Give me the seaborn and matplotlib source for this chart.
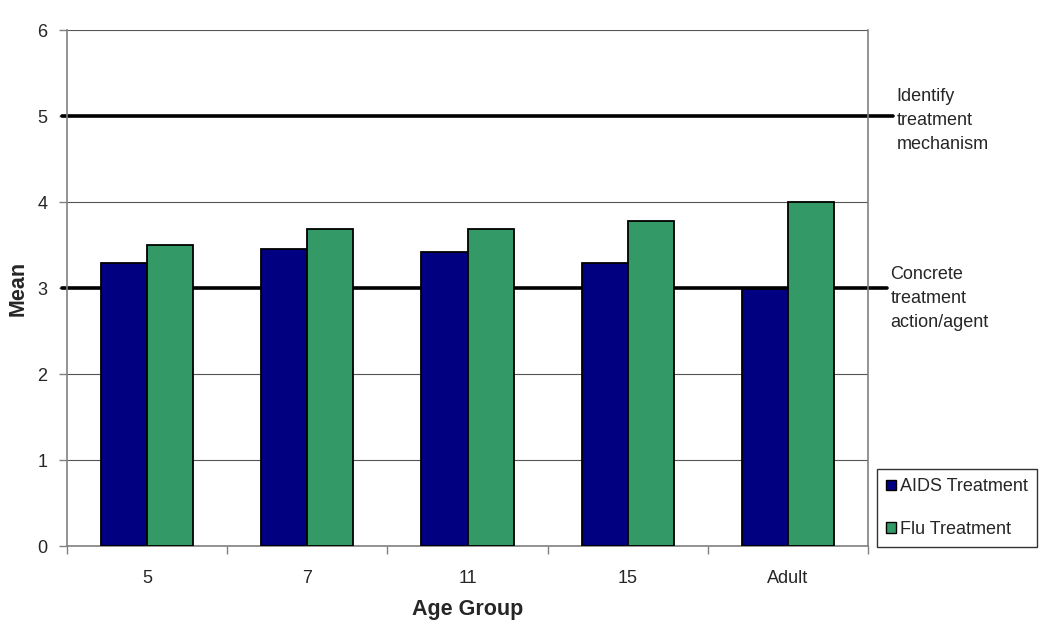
import pandas as pd
import seaborn as sns
import matplotlib.pyplot as plt
import matplotlib.transforms as mtransforms

#--------------
age_groups = ['5', '7', '11', '15', 'Adult']
aids_means = [3.29, 3.45, 3.42, 3.29, 2.99]
flu_means = [3.50, 3.69, 3.69, 3.78, 4.00]
series = ['AIDS Treatment', 'Flu Treatment']
colors = ['#000080', '#339966']

ref_levels = [5, 3]
ref_labels = ['Identify\ntreatment\nmechanism', 'Concrete\ntreatment\naction/agent']

df = pd.DataFrame({
    'Age Group': age_groups * 2,
    'Mean': aids_means + flu_means,
    'Series': [series[0]] * len(age_groups) + [series[1]] * len(age_groups),
})

#--------------
sns.set_style('white')
plt.rcParams['font.family'] = ['Liberation Sans', 'DejaVu Sans']

fig = plt.figure(figsize=(10.5, 6.32), dpi=100)
ax = fig.add_axes([0.0638, 0.136, 0.7629, 0.8165])

sns.barplot(data=df, x='Age Group', y='Mean', hue='Series', order=age_groups,
            hue_order=series, palette=colors, saturation=1, width=0.575,
            edgecolor='black', linewidth=1.3, ax=ax, zorder=3, legend=False)

ax.set_ylim(0, 6)
ax.set_xlim(-0.5, len(age_groups) - 0.5)
ax.set_yticks(range(0, 7))
ax.yaxis.grid(True, color='#555555', linewidth=0.8, zorder=0)
ax.set_axisbelow(True)

for s in ['left', 'right', 'top', 'bottom']:
    ax.spines[s].set_visible(True)
    ax.spines[s].set_color('#808080')
    ax.spines[s].set_linewidth(1.2)
ax.spines['top'].set_visible(False)

# tick marks between categories on x, outside ticks on y
ax.set_xticks([i - 0.5 for i in range(len(age_groups) + 1)], minor=False)
ax.set_xticklabels([''] * (len(age_groups) + 1))
ax.set_xticks(range(len(age_groups)), minor=True)
ax.set_xticklabels(age_groups, minor=True)
ax.tick_params(axis='x', which='major', direction='out', length=6, width=1, color='#808080', bottom=True)
ax.tick_params(axis='x', which='minor', length=0, labelsize=13, pad=17, bottom=True)
ax.tick_params(axis='y', direction='out', length=6, width=1, color='#808080', labelsize=13, left=True, pad=8)

ax.set_xlabel('Age Group', fontsize=15.5, fontweight='bold', labelpad=9)
ax.set_ylabel('Mean', fontsize=15.5, fontweight='bold', labelpad=6)

# reference levels
trans = mtransforms.blended_transform_factory(ax.transAxes, ax.transData)
ends = [1.031, 1.024]
for lvl, lab, xe in zip(ref_levels, ref_labels, ends):
    ax.plot([-0.006, xe], [lvl, lvl], color='black', linewidth=2.6,
            transform=trans, clip_on=False, zorder=2)
ax.text(1.036, 5.33, ref_labels[0], transform=trans, ha='left', va='top',
        fontsize=13, linespacing=1.55)
ax.text(1.028, 3.26, ref_labels[1], transform=trans, ha='left', va='top',
        fontsize=13, linespacing=1.55)

handles = [plt.Rectangle((0, 0), 1, 1, facecolor=c, edgecolor='black', linewidth=1) for c in colors]
leg = fig.legend(handles, series, loc='lower left', bbox_to_anchor=(0.835, 0.135),
                 frameon=True, fancybox=False, edgecolor='black', fontsize=13,
                 handlelength=0.55, handleheight=0.55, handletextpad=0.25,
                 labelspacing=1.4, borderpad=0.5, borderaxespad=0)
leg.get_frame().set_linewidth(1)

plt.savefig('out.png', dpi=100)
